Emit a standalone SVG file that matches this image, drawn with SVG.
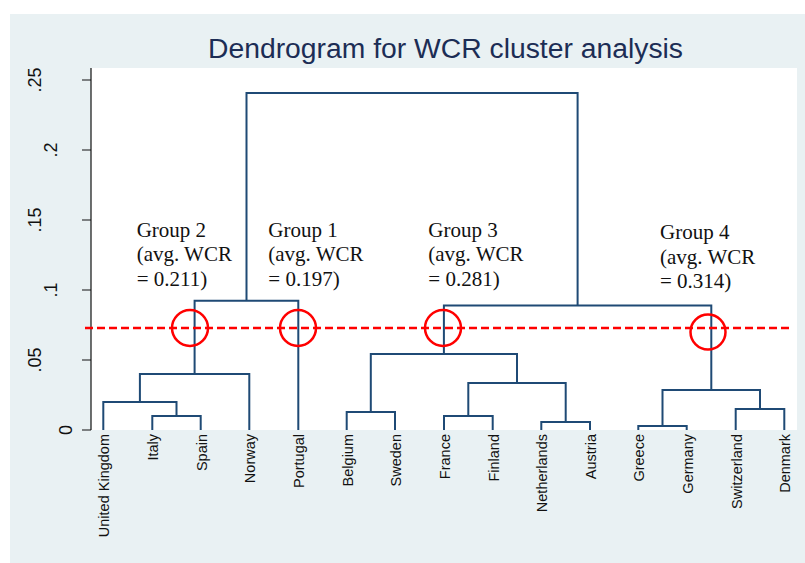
<svg xmlns="http://www.w3.org/2000/svg" width="805" height="563" viewBox="0 0 805 563">
<style>
.bg{fill:#e9f1f3}
.plot{fill:#ffffff}
.tree{fill:none;stroke:#1f4a75;stroke-width:2;stroke-linejoin:miter}
.axis{fill:none;stroke:#111;stroke-width:1.2}
.ylab{font-family:"Liberation Sans",Arial,sans-serif;font-size:18px;fill:#111;text-anchor:middle}
.leaf{font-family:"Liberation Sans",Arial,sans-serif;font-size:14.5px;fill:#111;text-anchor:end}
.grp{font-family:"Liberation Serif","Times New Roman",serif;font-size:21px;fill:#111}
.title{font-family:"Liberation Sans",Arial,sans-serif;font-size:27px;fill:#1c2d55;text-anchor:middle}
.cut{fill:none;stroke:#ff0000;stroke-width:2.5;stroke-dasharray:8 4}
.ring{fill:none;stroke:#ff0000;stroke-width:2.5}
</style>
<rect class="bg" x="10" y="14" width="795" height="549"/>
<rect class="plot" x="91" y="68" width="706" height="362"/>
<text class="title" x="445.5" y="58" textLength="475" lengthAdjust="spacingAndGlyphs">Dendrogram for WCR cluster analysis</text>
<g id="y-axis">
<path class="axis" d="M91 68V430M82 80H91M82 150H91M82 220H91M82 290H91M82 360H91M82 430H91"/>
<text class="ylab" transform="translate(41,80) rotate(-90)">.25</text>
<text class="ylab" transform="translate(57,150) rotate(-90)">.2</text>
<text class="ylab" transform="translate(41,220) rotate(-90)">.15</text>
<text class="ylab" transform="translate(57,290) rotate(-90)">.1</text>
<text class="ylab" transform="translate(41,360) rotate(-90)">.05</text>
<text class="ylab" transform="translate(72,430) rotate(-90)">0</text>
</g>
<g id="connectors">
<path class="tree" d="M152.3 430V416H200.7V430"/>
<path class="tree" d="M103.3 430V402H176.5V416"/>
<path class="tree" d="M139.9 402V374H249.3V430"/>
<path class="tree" d="M194.6 374V300.7H298.3V430"/>
<path class="tree" d="M346.7 430V412H395V430"/>
<path class="tree" d="M444 430V416H492.7V430"/>
<path class="tree" d="M541.3 430V422H590V430"/>
<path class="tree" d="M468.3 416V383H565.7V422"/>
<path class="tree" d="M370.8 412V354H517V383"/>
<path class="tree" d="M638.3 430V426H686.7V430"/>
<path class="tree" d="M735.7 430V409H784.3V430"/>
<path class="tree" d="M662.5 426V390H760V409"/>
<path class="tree" d="M443.9 354V305.5H711.3V390"/>
<path class="tree" d="M246.5 300.7V93H577.6V305.5"/>
</g>
<g id="leaves">
<text class="leaf" transform="translate(109.3,434) rotate(-90)">United Kingdom</text>
<text class="leaf" transform="translate(158.3,434) rotate(-90)">Italy</text>
<text class="leaf" transform="translate(206.7,434) rotate(-90)">Spain</text>
<text class="leaf" transform="translate(255.3,434) rotate(-90)">Norway</text>
<text class="leaf" transform="translate(304.3,434) rotate(-90)">Portugal</text>
<text class="leaf" transform="translate(352.7,434) rotate(-90)">Belgium</text>
<text class="leaf" transform="translate(401,434) rotate(-90)">Sweden</text>
<text class="leaf" transform="translate(450,434) rotate(-90)">France</text>
<text class="leaf" transform="translate(498.7,434) rotate(-90)">Finland</text>
<text class="leaf" transform="translate(547.3,434) rotate(-90)">Netherlands</text>
<text class="leaf" transform="translate(596,434) rotate(-90)">Austria</text>
<text class="leaf" transform="translate(644.3,434) rotate(-90)">Greece</text>
<text class="leaf" transform="translate(692.7,434) rotate(-90)">Germany</text>
<text class="leaf" transform="translate(741.7,434) rotate(-90)">Switzerland</text>
<text class="leaf" transform="translate(790.3,434) rotate(-90)">Denmark</text>
</g>
<g id="cut-line">
<line class="cut" x1="85" y1="328" x2="793" y2="328"/>
<circle class="ring" cx="190" cy="328" r="18"/>
<circle class="ring" cx="298" cy="328" r="18"/>
<circle class="ring" cx="443" cy="328" r="18"/>
<circle class="ring" cx="708" cy="332" r="17.5"/>
</g>
<g id="group2">
<text class="grp" x="136.7" y="236.5">Group 2</text>
<text class="grp" x="136.7" y="261">(avg. WCR</text>
<text class="grp" x="136.7" y="285.5">= 0.211)</text>
</g>
<g id="group1">
<text class="grp" x="268.3" y="236.5">Group 1</text>
<text class="grp" x="268.3" y="261">(avg. WCR</text>
<text class="grp" x="268.3" y="285.5">= 0.197)</text>
</g>
<g id="group3">
<text class="grp" x="428.3" y="236.5">Group 3</text>
<text class="grp" x="428.3" y="261">(avg. WCR</text>
<text class="grp" x="428.3" y="285.5">= 0.281)</text>
</g>
<g id="group4">
<text class="grp" x="660" y="239.3">Group 4</text>
<text class="grp" x="660" y="264">(avg. WCR</text>
<text class="grp" x="660" y="288.3">= 0.314)</text>
</g>
</svg>
